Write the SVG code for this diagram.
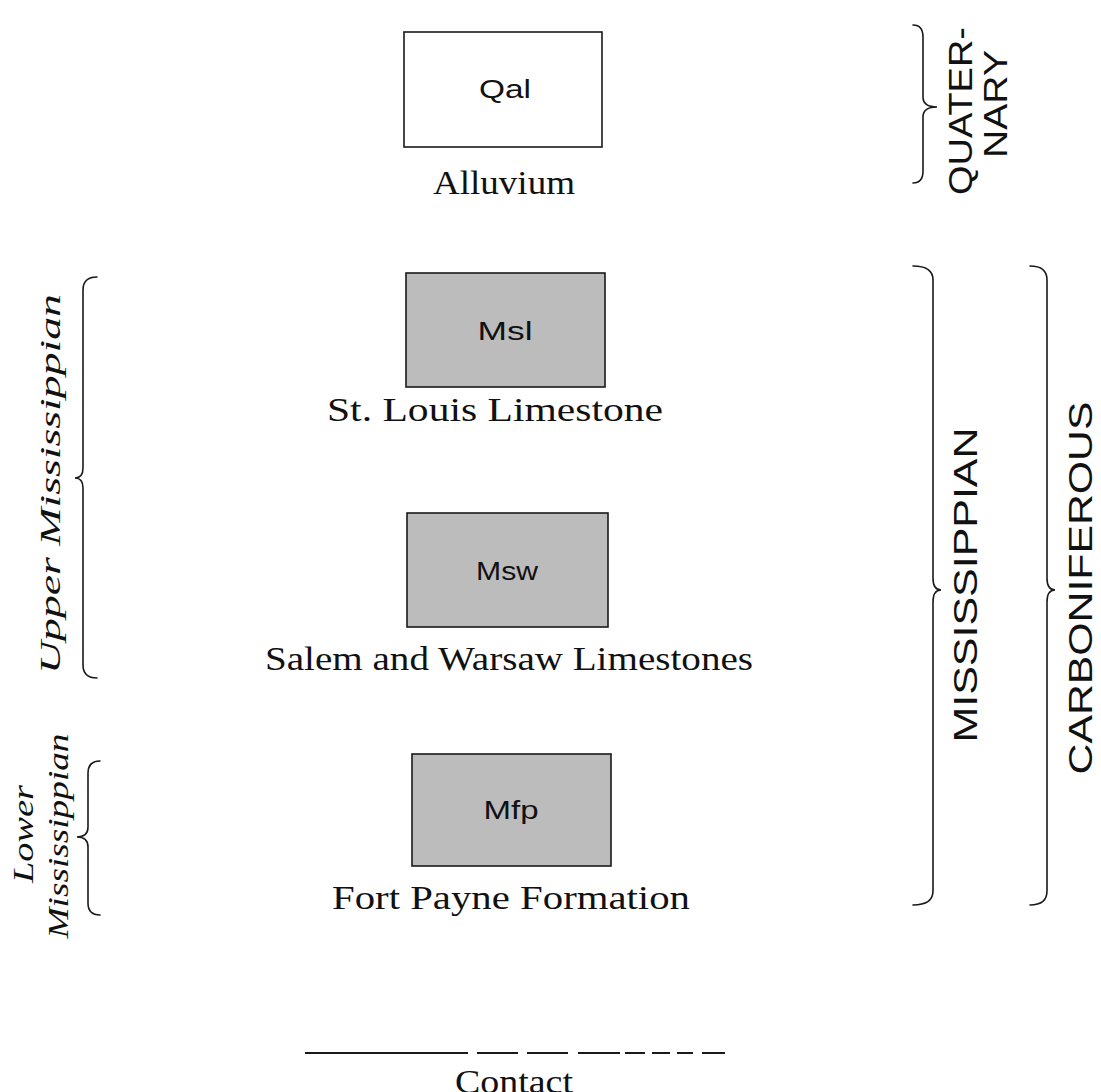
<svg xmlns="http://www.w3.org/2000/svg" width="1101" height="1092" viewBox="0 0 1101 1092">
  <style>
    .box { stroke: #1a1a1a; stroke-width: 1.6; }
    .unit { fill: #bcbcbc; }
    .plain { fill: #ffffff; }
    .code { font-family: "Liberation Sans", Arial, sans-serif; font-size: 26px; fill: #111; text-anchor: middle; }
    .name { font-family: "Liberation Serif", "Times New Roman", serif; font-size: 34px; fill: #111; text-anchor: middle; }
    .period { font-family: "Liberation Sans", Arial, sans-serif; font-size: 34px; fill: #111; text-anchor: middle; }
    .series { font-family: "Liberation Serif", "Times New Roman", serif; font-style: italic; font-size: 29px; fill: #111; text-anchor: middle; }
    .brace { fill: none; stroke: #1a1a1a; stroke-width: 1.6; stroke-linecap: round; }
    .contact { fill: none; stroke: #1a1a1a; stroke-width: 2; }
  </style>

  <!-- Map units -->
  <g id="unit-qal">
    <rect class="box plain" x="404" y="32" width="198" height="115"/>
    <text class="code" x="505" y="98" textLength="52" lengthAdjust="spacingAndGlyphs">Qal</text>
    <text class="name" x="504" y="194" textLength="142" lengthAdjust="spacingAndGlyphs">Alluvium</text>
  </g>

  <g id="unit-msl">
    <rect class="box unit" x="406" y="273" width="199" height="114"/>
    <text class="code" x="505" y="340" textLength="55" lengthAdjust="spacingAndGlyphs">Msl</text>
    <text class="name" x="495" y="421" textLength="336" lengthAdjust="spacingAndGlyphs">St. Louis Limestone</text>
  </g>

  <g id="unit-msw">
    <rect class="box unit" x="407" y="513" width="201" height="114"/>
    <text class="code" x="507" y="580" textLength="62" lengthAdjust="spacingAndGlyphs">Msw</text>
    <text class="name" x="509" y="670" textLength="488" lengthAdjust="spacingAndGlyphs">Salem and Warsaw Limestones</text>
  </g>

  <g id="unit-mfp">
    <rect class="box unit" x="412" y="754" width="199" height="112"/>
    <text class="code" x="511" y="819" textLength="55" lengthAdjust="spacingAndGlyphs">Mfp</text>
    <text class="name" x="511" y="909" textLength="358" lengthAdjust="spacingAndGlyphs">Fort Payne Formation</text>
  </g>

  <!-- Age brackets -->
  <g id="brackets">
    <!-- right side: Quaternary, Mississippian, Carboniferous -->
    <path class="brace" d="M913,25 Q923,25 923,37 L923,97 Q923,107 937,107 Q923,107 923,117 L923,171 Q923,183 913,183"/>
    <path class="brace" d="M913,266 Q933,266 933,280 L933,578 Q933,590 941,590 Q933,590 933,602 L933,891 Q933,905 913,905"/>
    <path class="brace" d="M1030,266 Q1047,266 1047,280 L1047,578 Q1047,590 1055,590 Q1047,590 1047,602 L1047,891 Q1047,905 1030,905"/>
    <!-- left side: Upper and Lower Mississippian -->
    <path class="brace" d="M97,277 Q83,277 83,290 L83,468 Q83,478 75,478 Q83,478 83,488 L83,665 Q83,678 97,678"/>
    <path class="brace" d="M100,761 Q88,761 88,773 L88,827 Q88,837 77,837 Q88,837 88,847 L88,903 Q88,915 100,915"/>
  </g>

  <g id="age-labels">
    <text class="period" transform="translate(972,111) rotate(-90)" textLength="168" lengthAdjust="spacingAndGlyphs">QUATER-</text>
    <text class="period" transform="translate(1007,104) rotate(-90)" textLength="108" lengthAdjust="spacingAndGlyphs">NARY</text>
    <text class="period" transform="translate(977,585) rotate(-90)" textLength="315" lengthAdjust="spacingAndGlyphs">MISSISSIPPIAN</text>
    <text class="period" transform="translate(1092,588) rotate(-90)" textLength="373" lengthAdjust="spacingAndGlyphs">CARBONIFEROUS</text>
    <text class="series" transform="translate(60,484) rotate(-90)" textLength="380" lengthAdjust="spacingAndGlyphs">Upper Mississippian</text>
    <text class="series" transform="translate(33,834) rotate(-90)" textLength="98" lengthAdjust="spacingAndGlyphs">Lower</text>
    <text class="series" transform="translate(68,836) rotate(-90)" textLength="205" lengthAdjust="spacingAndGlyphs">Mississippian</text>
  </g>

  <!-- Legend: contact line -->
  <g id="legend-contact">
    <path class="contact" d="M305,1053 H468 M477,1053 H518 M527,1053 H568 M578,1053 H620 M625,1053 H645 M652,1053 H670 M677,1053 H693 M702,1053 H725"/>
    <text class="name" x="514" y="1093" textLength="118" lengthAdjust="spacingAndGlyphs">Contact</text>
  </g>
</svg>
